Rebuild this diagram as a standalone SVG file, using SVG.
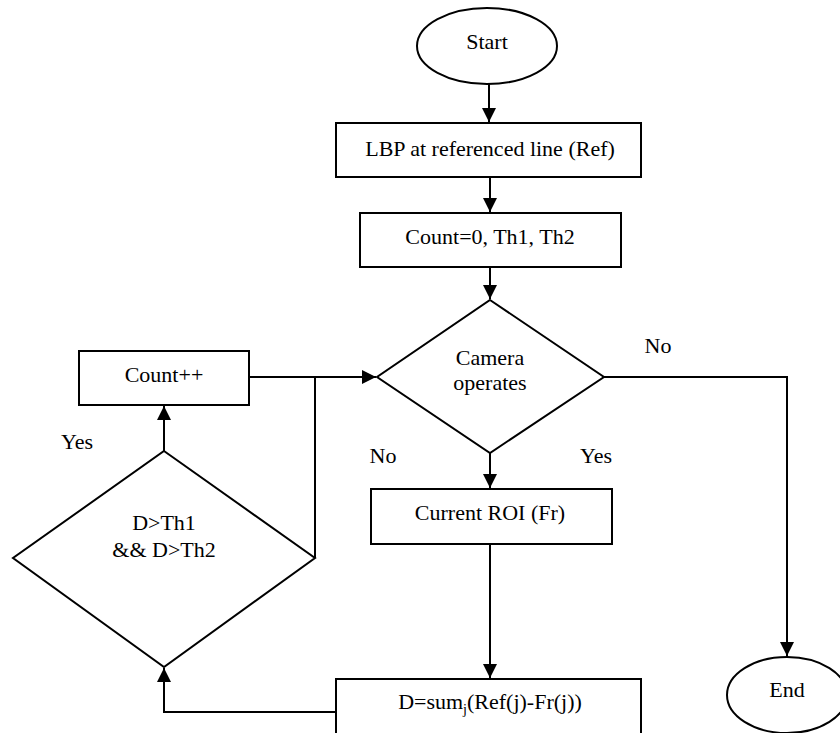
<svg xmlns="http://www.w3.org/2000/svg" width="840" height="733" viewBox="0 0 840 733" font-family="'Liberation Serif', 'Times New Roman', 'DejaVu Serif', serif" font-size="22">
<style>
.s{fill:#fff;stroke:#000;stroke-width:2}
.c{fill:none;stroke:#000;stroke-width:2}
text{font-family:'Liberation Serif','Times New Roman','DejaVu Serif',serif;font-size:22px;fill:#000}
.m{text-anchor:middle}
</style>
<defs>
<marker id="a" markerUnits="userSpaceOnUse" markerWidth="14" markerHeight="14" refX="14" refY="7" orient="auto">
<path d="M0,0 L14,7 L0,14 z" fill="#000"/>
</marker>
</defs>
<rect width="840" height="733" fill="#fff"/>
<g id="connectors">
<path class="c" d="M489,84 L489,122" marker-end="url(#a)"/>
<path class="c" d="M490,177 L490,212" marker-end="url(#a)"/>
<path class="c" d="M490,267 L490,299" marker-end="url(#a)"/>
<path class="c" d="M490,453 L490,488" marker-end="url(#a)"/>
<path class="c" d="M490,544 L490,678" marker-end="url(#a)"/>
<path class="c" d="M336,712 L164,712 L164,668" marker-end="url(#a)"/>
<path class="c" d="M164,451 L164,406" marker-end="url(#a)"/>
<path class="c" d="M315,558 L315,377"/>
<path class="c" d="M249,377 L376,377" marker-end="url(#a)"/>
<path class="c" d="M604,377 L787,377 L787,656" marker-end="url(#a)"/>
</g>
<g id="labels">
<text class="m" x="658" y="353">No</text>
<text class="m" x="596" y="463">Yes</text>
<text class="m" x="383" y="463">No</text>
<text class="m" x="77" y="449">Yes</text>
</g>
<g id="start">
<ellipse class="s" cx="487" cy="46" rx="70" ry="38"/>
<text class="m" x="487" y="49">Start</text>
</g>
<g id="lbp">
<rect class="s" x="336" y="123" width="305" height="54"/>
<text class="m" x="490" y="156">LBP at referenced line (Ref)</text>
</g>
<g id="init">
<rect class="s" x="360" y="213" width="261" height="54"/>
<text class="m" x="490" y="244">Count=0, Th1, Th2</text>
</g>
<g id="camera">
<polygon class="s" points="490,300 604,377 490,453 377,377"/>
<text class="m" x="490" y="365">Camera</text>
<text class="m" x="490" y="390">operates</text>
</g>
<g id="countpp">
<rect class="s" x="79" y="351" width="170" height="54"/>
<text class="m" x="164" y="382">Count++</text>
</g>
<g id="cond">
<polygon class="s" points="164,451 315,558 164,667 13,558"/>
<text class="m" x="164" y="530">D&gt;Th1</text>
<text class="m" x="164" y="557">&amp;&amp; D&gt;Th2</text>
</g>
<g id="roi">
<rect class="s" x="371" y="489" width="241" height="55"/>
<text class="m" x="490" y="520">Current ROI (Fr)</text>
</g>
<g id="dsum">
<rect class="s" x="336" y="679" width="305" height="60"/>
<text class="m" x="490" y="709">D=sum<tspan font-size="14" dy="5">j</tspan><tspan dy="-5">(Ref(j)-Fr(j))</tspan></text>
</g>
<g id="end">
<ellipse class="s" cx="787" cy="695" rx="60" ry="38"/>
<text class="m" x="787" y="697">End</text>
</g>
</svg>
